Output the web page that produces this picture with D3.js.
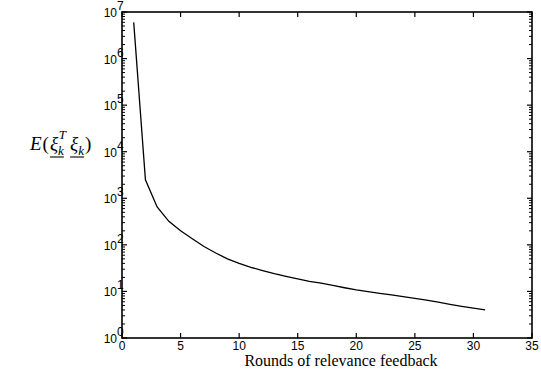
<!DOCTYPE html>
<html>
<head>
<meta charset="utf-8">
<script src="https://cdn.jsdelivr.net/npm/d3@7"></script>
<style>
  body { margin: 0; background: #fff; }
  .tick-lbl { font-family: "Liberation Sans", Arial, sans-serif; font-size: 12px; fill: #000; }
  .xlabel { font-family: "Liberation Serif", "Times New Roman", serif; font-size: 16px; fill: #000; }
  .ylabel { font-family: "Liberation Serif", "Times New Roman", serif; font-size: 19px; fill: #000; }
</style>
</head>
<body>
<div class="chart"></div>
<script>
// rounds of relevance feedback and the expected error energy
var rounds = [1,2,3,4,5,6,7,8,9,10,11,12,13,14,15,16,17,18,19,20,21,22,23,24,25,26,27,28,29,30,31];
var energy = [6e6, 2500, 650, 320, 200, 135, 92, 67, 50, 40, 33, 28, 24, 21, 18.5, 16.5, 15, 13.5, 12, 10.8,
              9.9, 9.1, 8.4, 7.7, 7.1, 6.5, 5.9, 5.3, 4.8, 4.4, 4.0];
var xTicks = [0,5,10,15,20,25,30,35];
var yExps = [0,1,2,3,4,5,6,7];

var margin = {left:122, right:9, top:12, bottom:34};
var W = 541, H = 372;
var w = W - margin.left - margin.right, h = H - margin.top - margin.bottom;

var svg = d3.select("body div.chart").append("svg").attr("width", W).attr("height", H);
var g = svg.append("g").attr("transform", "translate(" + margin.left + "," + margin.top + ")");

var x = d3.scaleLinear().domain([0, 35]).range([0, w]);
var y = d3.scaleLog().domain([1, 1e7]).range([h, 0]);

// minor log ticks on left and right
var minor = [];
yExps.slice(0, -1).forEach(function(e) {
    for (var m = 2; m <= 9; m++) minor.push(m * Math.pow(10, e));
});

g.selectAll("line.ymin").data(minor).enter().append("line")
    .attr("x1", 0).attr("x2", 3)
    .attr("y1", function(d) { return y(d); }).attr("y2", function(d) { return y(d); })
    .attr("stroke", "#000").attr("stroke-width", 1);
g.selectAll("line.ymin2").data(minor).enter().append("line")
    .attr("x1", w).attr("x2", w - 3)
    .attr("y1", function(d) { return y(d); }).attr("y2", function(d) { return y(d); })
    .attr("stroke", "#000").attr("stroke-width", 1);

// major y ticks
g.selectAll("line.ymaj").data(yExps).enter().append("line")
    .attr("x1", 0).attr("x2", 5)
    .attr("y1", function(d) { return y(Math.pow(10, d)); }).attr("y2", function(d) { return y(Math.pow(10, d)); })
    .attr("stroke", "#000").attr("stroke-width", 1.2);
g.selectAll("line.ymaj2").data(yExps).enter().append("line")
    .attr("x1", w).attr("x2", w - 5)
    .attr("y1", function(d) { return y(Math.pow(10, d)); }).attr("y2", function(d) { return y(Math.pow(10, d)); })
    .attr("stroke", "#000").attr("stroke-width", 1.2);

// x ticks bottom and top
g.selectAll("line.xb").data(xTicks).enter().append("line")
    .attr("x1", function(d) { return x(d); }).attr("x2", function(d) { return x(d); })
    .attr("y1", h).attr("y2", h - 5)
    .attr("stroke", "#000").attr("stroke-width", 1.2);
g.selectAll("line.xt").data(xTicks).enter().append("line")
    .attr("x1", function(d) { return x(d); }).attr("x2", function(d) { return x(d); })
    .attr("y1", 0).attr("y2", 5)
    .attr("stroke", "#000").attr("stroke-width", 1.2);

// frame
g.append("rect").attr("x", 0).attr("y", 0).attr("width", w).attr("height", h)
    .attr("fill", "none").attr("stroke", "#000").attr("stroke-width", 1.6);

// x tick labels
g.selectAll("text.xl").data(xTicks).enter().append("text")
    .attr("class", "tick-lbl")
    .attr("x", function(d) { return x(d); }).attr("y", h + 12)
    .attr("text-anchor", "middle")
    .text(function(d) { return d; });

// y tick labels: 10 with superscript
g.selectAll("text.yl").data(yExps).enter().append("text")
    .attr("class", "tick-lbl")
    .attr("x", -5).attr("y", function(d) { return y(Math.pow(10, d)) + 5; })
    .attr("text-anchor", "end")
    .text("10");
g.selectAll("text.ye").data(yExps).enter().append("text")
    .attr("class", "tick-lbl").attr("font-size", "9px")
    .attr("x", -5).attr("y", function(d) { return y(Math.pow(10, d)) - 2; })
    .text(function(d) { return d; });

// data line
var line = d3.line()
    .x(function(d, i) { return x(rounds[i]); })
    .y(function(d) { return y(d); });

g.append("path").attr("d", line(energy))
    .attr("fill", "none").attr("stroke", "#000").attr("stroke-width", 1.3);

// axis labels
svg.append("text").attr("class", "xlabel")
    .attr("x", 341).attr("y", 366).attr("text-anchor", "middle")
    .text("Rounds of relevance feedback");

var lab = svg.append("text").attr("class", "ylabel").attr("x", 30).attr("y", 150);
lab.append("tspan").attr("font-style", "italic").text("E");
lab.append("tspan").attr("dx", 1).text("(");
lab.append("tspan").attr("font-style", "italic").attr("dx", 1).text("ξ");
lab.append("tspan").attr("font-style", "italic").attr("font-size", "13px").attr("dy", 5).text("k");
lab.append("tspan").attr("font-style", "italic").attr("font-size", "13px").attr("dy", -16).attr("dx", -5).text("T");
lab.append("tspan").attr("font-style", "italic").attr("dy", 11).attr("dx", 4).text("ξ");
lab.append("tspan").attr("font-style", "italic").attr("font-size", "13px").attr("dy", 5).text("k");
lab.append("tspan").attr("dy", -5).attr("dx", 1).text(")");

// underlines under the xi symbols, placed from the glyph extents
var node = lab.node();
var pairs = [[2, 3], [5, 6]];
pairs.forEach(function(p) {
    var a = node.getExtentOfChar(p[0]), b = node.getExtentOfChar(p[1]);
    svg.append("line")
        .attr("x1", a.x).attr("x2", b.x + b.width)
        .attr("y1", 157).attr("y2", 157)
        .attr("stroke", "#000").attr("stroke-width", 1.1);
});
</script>
</body>
</html>
